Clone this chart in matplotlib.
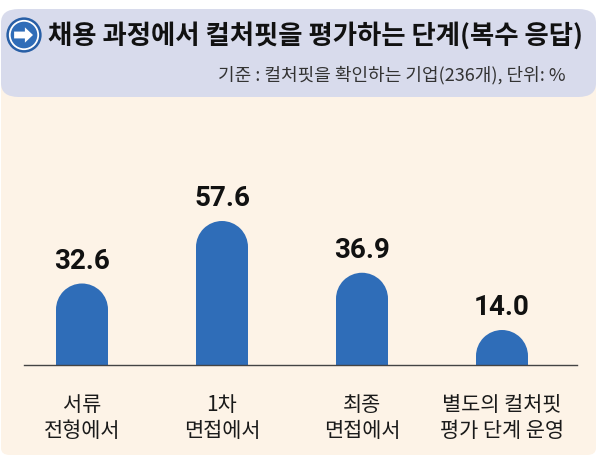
import matplotlib
matplotlib.use("Agg")
import matplotlib.pyplot as plt
from matplotlib import font_manager as fm
from matplotlib.patches import FancyBboxPatch, Ellipse, Circle, FancyArrow
import numpy as np

# ---- data ----
categories = ["서류\n전형에서", "1차\n면접에서", "최종\n면접에서", "별도의 컬처핏\n평가 단계 운영"]
values = [32.6, 57.6, 36.9, 14.0]
value_labels = ["32.6", "57.6", "36.9", "14.0"]
title = "채용 과정에서 컬처핏을 평가하는 단계(복수 응답)"
subtitle = "기준 : 컬처핏을 확인하는 기업(236개), 단위: %"

KR = "Noto Sans CJK KR"
avail = {f.name for f in fm.fontManager.ttflist}
NUM = next((f for f in ["Liberation Sans Narrow", "Roboto", "DejaVu Sans"] if f in avail), "DejaVu Sans")

BLUE = "#2F6DB8"
CREAM = "#FDF3E7"
LAV = "#D8DBEC"

W, H = 597, 458
fig = plt.figure(figsize=(W / 100, H / 100), dpi=100)
fig.patch.set_facecolor("white")

def fx(px):
    return px / W

def fy(py):
    return 1 - py / H

# cream panel
fig.patches.append(FancyBboxPatch((fx(1), fy(455)), fx(595), (455 - 60) / H,
                                  boxstyle="round,pad=0,rounding_size=0.015",
                                  transform=fig.transFigure, facecolor=CREAM,
                                  edgecolor="none", zorder=-3))
# header panel
fig.patches.append(FancyBboxPatch((fx(1), fy(97)), fx(595), (97 - 9) / H,
                                  boxstyle="round,pad=0,rounding_size=0.03",
                                  transform=fig.transFigure, facecolor=LAV,
                                  edgecolor="none", zorder=-2))

# icon
icon_ax = fig.add_axes([fx(6), fy(53), fx(36), 36 / H], zorder=3)
icon_ax.set_xlim(-1, 1); icon_ax.set_ylim(-1, 1); icon_ax.set_aspect("equal")
icon_ax.axis("off")
icon_ax.add_patch(Circle((0, 0), 0.98, color="#285FA6", lw=0))
icon_ax.add_patch(Circle((0, 0), 0.84, color="white", lw=0))
icon_ax.add_patch(Circle((0, 0), 0.74, color=BLUE, lw=0))
icon_ax.add_patch(FancyArrow(-0.55, 0, 0.6, 0, width=0.38, head_width=0.85,
                             head_length=0.45, length_includes_head=False,
                             color="white", lw=0))

fig.text(fx(48), fy(36), title, fontsize=19, fontweight="bold", family=[KR, "DejaVu Sans"],
         color="#111111", ha="left", va="center")
fig.text(fx(566), fy(75), subtitle, fontsize=13, family=[KR, "DejaVu Sans"],
         color="#333333", ha="right", va="center")

# main axes
ax = fig.add_axes([fx(24), fy(365), fx(577 - 24), (365 - 110) / H], zorder=2)
ax.set_facecolor("none")
x = np.arange(len(values))
spacing_px = 140.0
ax.set_xlim((24 - 82) / spacing_px, (577 - 82) / spacing_px)
ax.set_ylim(0, 102)
bw = 52 / spacing_px
px_per_unit = (365 - 110) / 102
r_units = 26 / px_per_unit

for xi, v in zip(x, values):
    ax.bar(xi, v - r_units, width=bw, color=BLUE, lw=0, zorder=2)
    ax.add_patch(Ellipse((xi, v - r_units), bw, 2 * r_units, facecolor=BLUE,
                         edgecolor="none", lw=0, zorder=2))

for xi, v, lab in zip(x, values, value_labels):
    ax.annotate(lab, (xi, v), xytext=(0, 16), textcoords="offset points",
                ha="center", va="center", fontsize=20, fontweight="bold",
                family=NUM, color="#111111")

for s in ["top", "right", "left"]:
    ax.spines[s].set_visible(False)
ax.spines["bottom"].set_color("#444444")
ax.spines["bottom"].set_linewidth(1.0)
ax.set_yticks([])
ax.set_xticks(x)
ax.set_xticklabels(categories, fontsize=15, family=[KR, "DejaVu Sans"], color="#1a1a1a",
                   linespacing=1.2)
ax.tick_params(axis="x", length=0, pad=21)

fig.savefig("out.png", dpi=100, facecolor=fig.get_facecolor())
